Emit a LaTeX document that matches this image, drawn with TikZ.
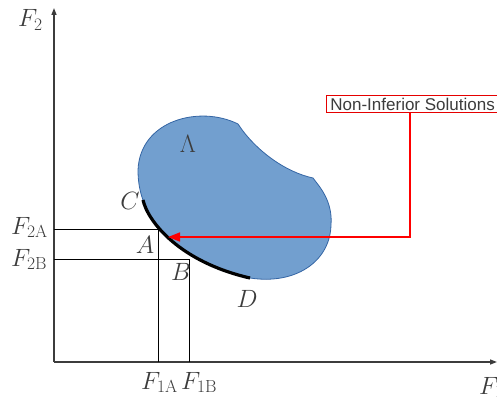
\documentclass[tikz,border=0pt]{standalone}
\usepackage{fix-cm}
\usepackage{fontspec}
\newfontfamily\arialfont{Liberation Sans}
\usetikzlibrary{arrows.meta}
\definecolor{blobfill}{RGB}{114,159,207}
\definecolor{blobline}{RGB}{52,101,164}
\definecolor{txt}{RGB}{60,60,60}
\tikzset{
  axis/.style={draw=txt, line width=1.3pt},
  guide/.style={draw=black, line width=0.8pt},
  lbl/.style={text=txt, inner sep=0pt, font=\fontsize{25}{28}\selectfont},
  redbox/.style={draw=red!90!black, line width=0.8pt, fill=white, inner xsep=4pt, inner ysep=2pt, text=txt, font=\arialfont\fontsize{17}{19}\selectfont, anchor=west},
  redarrow/.style={draw=red, line width=1.6pt, -{Triangle[length=12pt,width=9pt]}},
}
\begin{document}
\begin{tikzpicture}[x=1pt,y=-1pt]
\useasboundingbox (0,0) rectangle (497,398);
\clip (0,0) rectangle (497,398);
% blob
\path[fill=blobfill, draw=blobline, line width=0.8pt]
  (143,200) .. controls (140,192) and (138,182) .. (138,170)
  .. controls (140,120) and (200,105) .. (238,124)
  .. controls (255,150) and (285,172) .. (313,178)
  .. controls (318,185) and (333,200) .. (331,225)
  .. controls (330,262) and (295,285) .. (250,278)
  .. controls (180,262) and (148,222) .. (143,200) -- cycle;
\draw[line width=3.2pt] (143,200) .. controls (148,222) and (180,262) .. (250,278);
% coordinates
\coordinate (O) at (54,362);
\coordinate (Ytop) at (54,8);
\coordinate (Xend) at (497,362);
\coordinate (pA) at (168,237);
\coordinate (hA) at (158,229);
\coordinate (yA) at (54,229);
\coordinate (xA) at (158,362);
\coordinate (hB) at (189,259);
\coordinate (yB) at (54,259);
\coordinate (xB) at (189,362);
% axes
\draw[axis, -{Triangle[length=7pt,width=5pt]}] (O) -- (Ytop);
\draw[axis, -{Triangle[length=7pt,width=5pt]}] (O) -- (Xend);
% guides
\draw[guide] (yA) -- (hA) -- (xA);
\draw[guide] (yB) -- (hB) -- (xB);
% labels
\node[lbl, anchor=base west] (F2) at (18,27) {$F_{2}$};
\node[lbl, anchor=base west] (F1) at (479,394) {$F_{1}$};
\node[lbl, anchor=base west] (F2A) at (11,234) {$F_{\mathrm{2A}}$};
\node[lbl, anchor=base west] (F2B) at (11,266) {$F_{\mathrm{2B}}$};
\node[lbl, anchor=base west] (F1A) at (141,389) {$F_{\mathrm{1A}}$};
\node[lbl, anchor=base west] (F1B) at (181,389) {$F_{\mathrm{1B}}$};
\node[lbl] (C) at (130,201) {$C$};
\node[lbl] (A) at (145,245) {$A$};
\node[lbl] (B) at (181,272) {$B$};
\node[lbl] (D) at (247,299) {$D$};
\node[lbl] (L) at (188,144) {$\Lambda$};
% red callout
\node[redbox] (nis) at (326,104) {Non-Inferior Solutions};
\coordinate (bend) at (410,237);
\draw[redarrow] (nis.south -| bend) -- (bend) -- (pA);
\end{tikzpicture}
\end{document}
